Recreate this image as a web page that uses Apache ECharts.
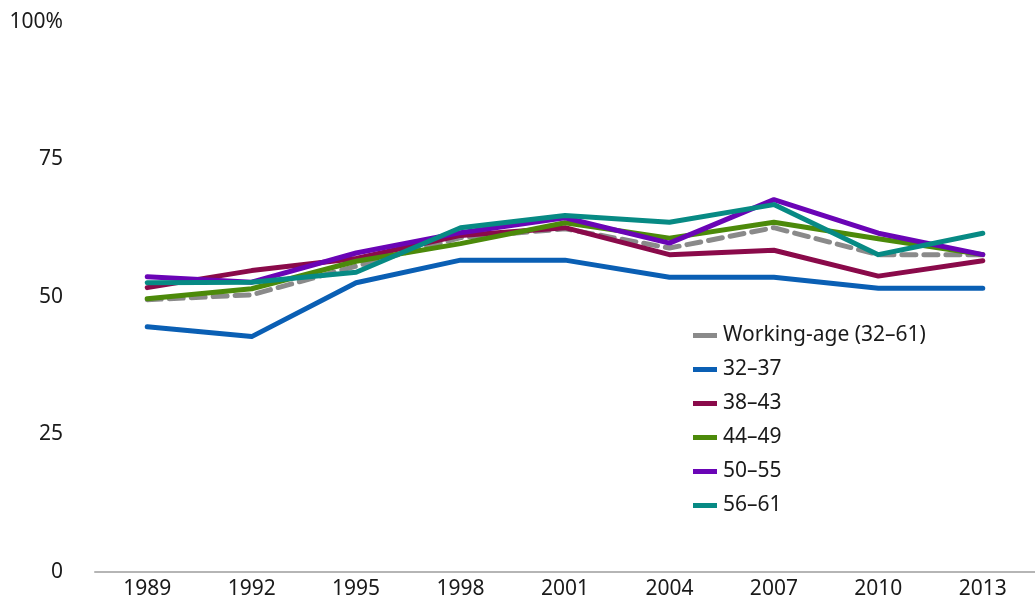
<!DOCTYPE html>
<html>
<head>
<meta charset="utf-8">
<script src="https://cdn.jsdelivr.net/npm/echarts@6/dist/echarts.min.js"></script>
<style>
  html, body { margin: 0; padding: 0; background: #fff; }
  #chart { width: 1035px; height: 608px; }
</style>
</head>
<body>
<div id="chart"></div>
<script>
// survey years
const years = ["1989", "1992", "1995", "1998", "2001", "2004", "2007", "2010", "2013"];

// share (%) by age group
const workingAge = [49.5, 50.4, 55.6, 60.8, 62.4, 58.9, 62.6, 57.7, 57.7];
const age3237 = [44.6, 42.8, 52.6, 56.7, 56.7, 53.6, 53.6, 51.6, 51.6];
const age3843 = [51.7, 54.8, 57.0, 61.2, 62.6, 57.7, 58.5, 53.8, 56.6];
const age4449 = [49.7, 51.5, 56.5, 59.7, 63.5, 60.7, 63.6, 60.6, 57.7];
const age5055 = [53.7, 52.7, 58.0, 61.7, 64.4, 59.8, 67.7, 61.6, 57.7];
const age5661 = [52.6, 52.7, 54.5, 62.6, 64.8, 63.6, 66.8, 57.7, 61.6];

const yTicks = [0, 25, 50, 75, 100];

const fontFamily = "'Noto Sans', sans-serif";

function makeLine(name, data, color, dashed) {
  return {
    name: name,
    type: "line",
    data: data,
    showSymbol: false,
    symbol: "none",
    color: color,
    lineStyle: {
      width: 5,
      color: color,
      cap: "round",
      join: "round",
      type: dashed ? [14, 8] : "solid"
    },
    emphasis: { disabled: true }
  };
}

const chart = echarts.init(document.getElementById("chart"), null, { renderer: "canvas" });

const option = {
  animation: false,
  backgroundColor: "#fff",
  textStyle: { fontFamily: fontFamily },
  grid: {
    left: 95,
    right: -14,
    top: 22,
    bottom: 36,
    containLabel: false
  },
  legend: {
    orient: "vertical",
    left: 688,
    top: 320,
    icon: "rect",
    itemWidth: 24,
    itemHeight: 5,
    itemGap: 13,
    selectedMode: false,
    itemStyle: { borderWidth: 0 },
    lineStyle: { type: "solid" },
    textStyle: {
      fontFamily: fontFamily,
      fontSize: 21,
      lineHeight: 21,
      color: "#1a1a1a",
      padding: [0, 0, 0, 1]
    },
    data: ["Working-age (32–61)", "32–37", "38–43", "44–49", "50–55", "56–61"]
  },
  xAxis: {
    type: "category",
    data: years,
    boundaryGap: true,
    axisLine: { lineStyle: { color: "#b5b5b5", width: 2 } },
    axisTick: { alignWithLabel: true, length: 8, lineStyle: { color: "#b5b5b5", width: 2 } },
    axisLabel: { fontSize: 21, color: "#1a1a1a", margin: 7, fontFamily: fontFamily },
    splitLine: { show: false }
  },
  yAxis: {
    type: "value",
    min: yTicks[0],
    max: yTicks[yTicks.length - 1],
    interval: 25,
    axisLine: { show: false },
    axisTick: { show: false },
    splitLine: { show: false },
    axisLabel: {
      fontSize: 21,
      color: "#1a1a1a",
      margin: 32,
      fontFamily: fontFamily,
      formatter: function (v) {
        return v === 100 ? "100%" : String(v);
      }
    }
  },
  series: [
    makeLine("Working-age (32–61)", workingAge, "#8a8a8a", true),
    makeLine("32–37", age3237, "#0a5fb4", false),
    makeLine("38–43", age3843, "#8a0a4a", false),
    makeLine("44–49", age4449, "#4c8a0a", false),
    makeLine("50–55", age5055, "#6a04b6", false),
    makeLine("56–61", age5661, "#078a84", false)
  ]
};

chart.setOption(option);
</script>
</body>
</html>
